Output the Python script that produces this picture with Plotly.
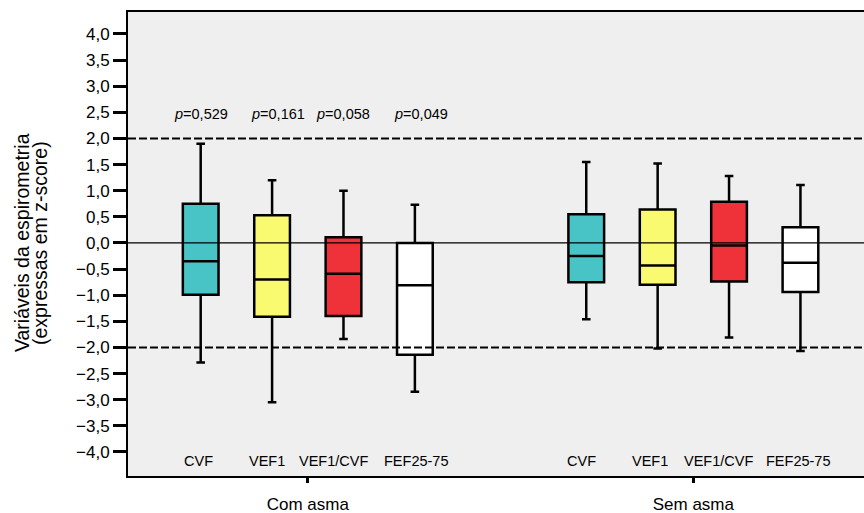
import plotly.graph_objects as go

# ---- data ----
variables = ["CVF", "VEF1", "VEF1/CVF", "FEF25-75"]
groups = ["Com asma", "Sem asma"]
colors = ["#48c4c7", "#fafa70", "#ef3139", "#ffffff"]

com_upper = [1.90, 1.20, 1.00, 0.73]
com_q3 = [0.75, 0.53, 0.11, 0.00]
com_median = [-0.35, -0.70, -0.59, -0.81]
com_q1 = [-0.99, -1.41, -1.40, -2.14]
com_lower = [-2.29, -3.05, -1.84, -2.85]

sem_upper = [1.55, 1.52, 1.28, 1.11]
sem_q3 = [0.55, 0.64, 0.79, 0.30]
sem_median = [-0.25, -0.43, -0.05, -0.38]
sem_q1 = [-0.75, -0.80, -0.74, -0.94]
sem_lower = [-1.46, -2.02, -1.81, -2.07]

p_values = ["0,529", "0,161", "0,058", "0,049"]

y_ticks = [-4.0, -3.5, -3.0, -2.5, -2.0, -1.5, -1.0, -0.5, 0.0, 0.5, 1.0, 1.5, 2.0, 2.5, 3.0, 3.5, 4.0]
ref_lines = [-2.0, 2.0]

# ---- layout helpers ----
group_offset = [0.0, 5.4]
label_shift = [[-2, -5, -10, 1], [-5, -8, -11, -2]]
p_x_shift = [0, 6, 0, 6]
font_family = "Liberation Sans, Arial, sans-serif"

def fmt(v):
    s = f"{abs(v):.1f}".replace(".", ",")
    return ("\u2212" + s) if v < 0 else s

fig = go.Figure()

stats = [
    (com_lower, com_q1, com_median, com_q3, com_upper),
    (sem_lower, sem_q1, sem_median, sem_q3, sem_upper),
]
for g, (lo, q1, me, q3, up) in enumerate(stats):
    for i, var in enumerate(variables):
        fig.add_trace(go.Box(
            x=[group_offset[g] + i],
            lowerfence=[lo[i]], q1=[q1[i]], median=[me[i]], q3=[q3[i]], upperfence=[up[i]],
            width=0.5, whiskerwidth=0.24,
            fillcolor=colors[i],
            line=dict(color="black", width=2.5),
            boxpoints=False, hoverinfo="skip", showlegend=False,
            name=f"{groups[g]} {var}",
        ))

# reference lines (drawn above boxes)
fig.add_hline(y=0, line=dict(color="black", width=1.3), layer="above")
for yv in ref_lines:
    fig.add_hline(y=yv, line=dict(color="black", width=2, dash="8px,3px"), layer="above")

# variable labels inside plot, near bottom
for g in range(2):
    for i, var in enumerate(variables):
        fig.add_annotation(x=group_offset[g] + i, y=-4.17, text=var, showarrow=False,
                           xanchor="center", yanchor="middle", xshift=label_shift[g][i],
                           font=dict(size=14.5, color="black", family=font_family))

# p-values
for i, p in enumerate(p_values):
    fig.add_annotation(x=group_offset[0] + i, y=2.46, text=f"<i>p</i>=" + p, showarrow=False,
                       xanchor="center", yanchor="middle", xshift=p_x_shift[i],
                       font=dict(size=14.5, color="black", family=font_family))

# y-axis title (two lines)
title_lines = ["Variáveis da espirometria", "(expressas em z-score)"]
for xp, line in zip([-0.144, -0.1196], title_lines):
    fig.add_annotation(xref="paper", yref="paper", x=xp, y=0.502,
                       text=line, textangle=-90, showarrow=False,
                       xanchor="center", yanchor="middle",
                       font=dict(size=19.5, color="black", family=font_family))

fig.update_layout(
    width=864, height=513,
    margin=dict(l=128, r=0, t=12, b=37),
    paper_bgcolor="white", plot_bgcolor="#efefef",
    font=dict(family=font_family, size=17, color="black"),
    xaxis=dict(
        range=[-1.018, 9.29],
        tickvals=[group_offset[0] + 1.5, group_offset[1] + 1.5],
        ticktext=groups,
        ticks="outside", ticklen=5, tickwidth=2.5, tickcolor="black",
        ticklabelstandoff=7,
        showline=True, linecolor="black", linewidth=2, mirror=True,
        showgrid=False, zeroline=False,
        tickfont=dict(size=17, family=font_family),
    ),
    yaxis=dict(
        range=[-4.46, 4.42],
        tickvals=y_ticks,
        ticktext=[fmt(v) for v in y_ticks],
        ticks="outside", ticklen=13, tickwidth=3, tickcolor="black",
        showline=True, linecolor="black", linewidth=2,
        showgrid=False, zeroline=False,
        tickfont=dict(size=17, family=font_family),
    ),
)

fig.write_html("out.html", config={"displayModeBar": False},
               post_script="document.body.style.margin='0';document.body.style.overflow='hidden';")
